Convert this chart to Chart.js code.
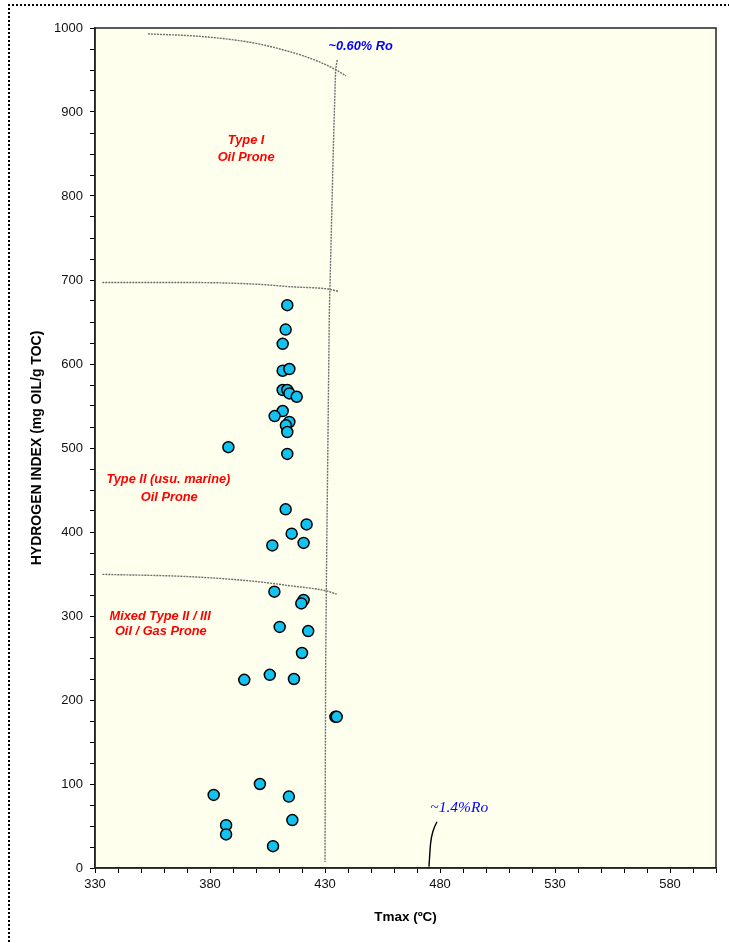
<!DOCTYPE html>
<html lang="en">
<head>
    <meta charset="UTF-8">
    <title>Hydrogen Index vs Tmax</title>
    <script src="https://cdn.jsdelivr.net/npm/chart.js"></script>
    <style>
        body { margin: 0; background: #fff; font-family: 'Liberation Sans', Arial, sans-serif; }
        .wrap { position: relative; width: 729px; height: 943px; overflow: hidden; }
        .frame { position: absolute; left: 8px; top: 4px; width: 760px; height: 1000px;
                 border-left: 2px dotted #000; border-top: 2px dotted #000; }
        canvas { position: absolute; left: 0; top: 0; }
    </style>
</head>
<body>
<div class="wrap">
    <div class="frame"></div>
    <canvas id="chart" width="729" height="943"></canvas>
</div>
<script>
    // samples
    const tmax = [413.6, 412.9, 411.6, 411.6, 414.5, 411.6, 413.6, 414.5, 417.7, 411.6,
                  408.1, 414.5, 413.0, 413.6, 388.0, 413.6, 412.9, 422.0, 415.5, 420.7,
                  407.1, 408.0, 420.7, 419.7, 410.3, 422.7, 420.0, 394.9, 406.0, 416.5,
                  434.5, 435.1, 401.7, 381.6, 414.3, 387.0, 387.0, 415.8, 407.4];
    const hydrogenIndex = [670, 641, 624, 592, 594, 569, 569, 565, 561, 544,
                           538, 531, 527, 519, 501, 493, 427, 409, 398, 387,
                           384, 329, 319, 315, 287, 282, 256, 224, 230, 225,
                           180, 180, 100, 87, 85, 51, 40, 57, 26];

    // kerogen type boundaries
    const typeITopT   = [353, 375.7, 397.4, 410.4, 423.5, 434.3, 439.1];
    const typeITopHI  = [993, 990, 983, 975, 964, 951, 943];
    const typeIBaseT  = [333.2, 371.3, 400.3, 414.8, 431.9, 435.8];
    const typeIBaseHI = [697, 697, 695, 692, 689, 686.5];
    const typeIIBaseT  = [333.2, 371.3, 400.3, 414.8, 430.4, 435.1];
    const typeIIBaseHI = [349.6, 346.8, 341, 336, 330, 326];

    // vitrinite reflectance isolines
    const ro060T  = [435.3, 434.6, 433.6, 432.9, 432.2, 431.9, 430.7, 430.3, 430.0];
    const ro060HI = [962, 950, 855, 775, 696, 664, 367, 248, 7];
    const ro14T  = [475.2, 475.9, 477.1, 478.7];
    const ro14HI = [1.5, 29, 45, 55];

    const labelFont = 'italic bold 12.8px "Liberation Sans"';
    const notes = [
        { text: '~0.60% Ro', t: 431.5, hi: 978, color: '#0000ff', font: labelFont, align: 'left' },
        { text: 'Type I', t: 395.7, hi: 866, color: '#ff0000', font: labelFont, align: 'center' },
        { text: 'Oil Prone', t: 395.7, hi: 846, color: '#ff0000', font: labelFont, align: 'center' },
        { text: 'Type II (usu. marine)', t: 361.9, hi: 462, color: '#ff0000', font: labelFont, align: 'center' },
        { text: 'Oil Prone', t: 362.3, hi: 441, color: '#ff0000', font: labelFont, align: 'center' },
        { text: 'Mixed Type II / III', t: 358.3, hi: 300, color: '#ff0000', font: labelFont, align: 'center' },
        { text: 'Oil / Gas Prone', t: 358.6, hi: 281.5, color: '#ff0000', font: labelFont, align: 'center' },
        { text: '~1.4%Ro', t: 475.8, hi: 72, color: '#0000ff', font: 'italic 15.5px "Liberation Serif"', align: 'left' }
    ];

    const toPoints = (xs, ys) => xs.map((x, i) => ({ x: x, y: ys[i] }));

    const curve = (xs, ys, color, dash, smooth) => ({
        data: toPoints(xs, ys),
        showLine: true,
        borderColor: color,
        borderWidth: 1.4,
        borderDash: dash,
        pointRadius: 0,
        cubicInterpolationMode: smooth ? 'monotone' : 'default',
        tension: smooth ? 0.4 : 0,
        fill: false
    });

    const plotBackground = {
        id: 'plotBackground',
        beforeDraw(chart) {
            const { ctx, chartArea: a } = chart;
            ctx.save();
            ctx.fillStyle = '#ffffee';
            ctx.fillRect(a.left, a.top, a.right - a.left, a.bottom - a.top);
            ctx.restore();
        },
        afterDraw(chart) {
            const { ctx, chartArea: a } = chart;
            ctx.save();
            ctx.strokeStyle = '#222';
            ctx.lineWidth = 1.5;
            ctx.strokeRect(a.left, a.top, a.right - a.left, a.bottom - a.top);
            ctx.restore();
        }
    };

    const textNotes = {
        id: 'textNotes',
        afterDatasetsDraw(chart) {
            const ctx = chart.ctx;
            const xs = chart.scales.x, ys = chart.scales.y;
            ctx.save();
            ctx.textBaseline = 'middle';
            notes.forEach(n => {
                ctx.font = n.font;
                ctx.fillStyle = n.color;
                ctx.textAlign = n.align;
                ctx.fillText(n.text, xs.getPixelForValue(n.t), ys.getPixelForValue(n.hi));
            });
            ctx.restore();
        }
    };

    new Chart(document.getElementById('chart'), {
        type: 'scatter',
        data: {
            datasets: [
                {
                    data: toPoints(tmax, hydrogenIndex),
                    backgroundColor: '#12c3f2',
                    borderColor: '#000',
                    borderWidth: 1.5,
                    pointRadius: 5.5
                },
                curve(typeITopT, typeITopHI, '#6e6e6e', [2, 1], true),
                curve(typeIBaseT, typeIBaseHI, '#6e6e6e', [2, 1], true),
                curve(typeIIBaseT, typeIIBaseHI, '#6e6e6e', [2, 1], true),
                curve(ro060T, ro060HI, '#6e6e6e', [2, 1], false),
                curve(ro14T, ro14HI, '#000', [], true)
            ]
        },
        options: {
            responsive: false,
            animation: false,
            layout: { padding: { left: 29, top: 28, right: 13, bottom: 18 } },
            plugins: { legend: { display: false }, tooltip: { enabled: false } },
            scales: {
                x: {
                    type: 'linear',
                    min: 330,
                    max: 600,
                    afterFit: s => { s.height = 943 - 868 - 18; },
                    grid: { drawOnChartArea: false, drawTicks: true, tickLength: 5, tickColor: '#000' },
                    border: { color: '#222', width: 1.5 },
                    ticks: {
                        stepSize: 10,
                        autoSkip: false,
                        maxRotation: 0,
                        padding: 4,
                        color: '#111',
                        font: { family: 'Liberation Sans', size: 13 },
                        callback: v => ((v - 330) % 50 === 0 ? v : '')
                    },
                    title: {
                        display: true,
                        text: 'Tmax (ºC)',
                        color: '#000',
                        padding: 0,
                        font: { family: 'Liberation Sans', size: 13.5, weight: 'bold' }
                    }
                },
                y: {
                    min: 0,
                    max: 1000,
                    afterFit: s => { s.width = 95 - 29; },
                    grid: { drawOnChartArea: false, drawTicks: true, tickLength: 5, tickColor: '#000' },
                    border: { color: '#222', width: 1.5 },
                    ticks: {
                        stepSize: 25,
                        autoSkip: false,
                        padding: 7,
                        color: '#111',
                        font: { family: 'Liberation Sans', size: 13 },
                        callback: v => (v % 100 === 0 ? v : '')
                    },
                    title: {
                        display: true,
                        text: 'HYDROGEN INDEX (mg OIL/g TOC)',
                        color: '#000',
                        padding: 0,
                        font: { family: 'Liberation Sans', size: 14, weight: 'bold' }
                    }
                }
            }
        },
        plugins: [plotBackground, textNotes]
    });
</script>
</body>
</html>
